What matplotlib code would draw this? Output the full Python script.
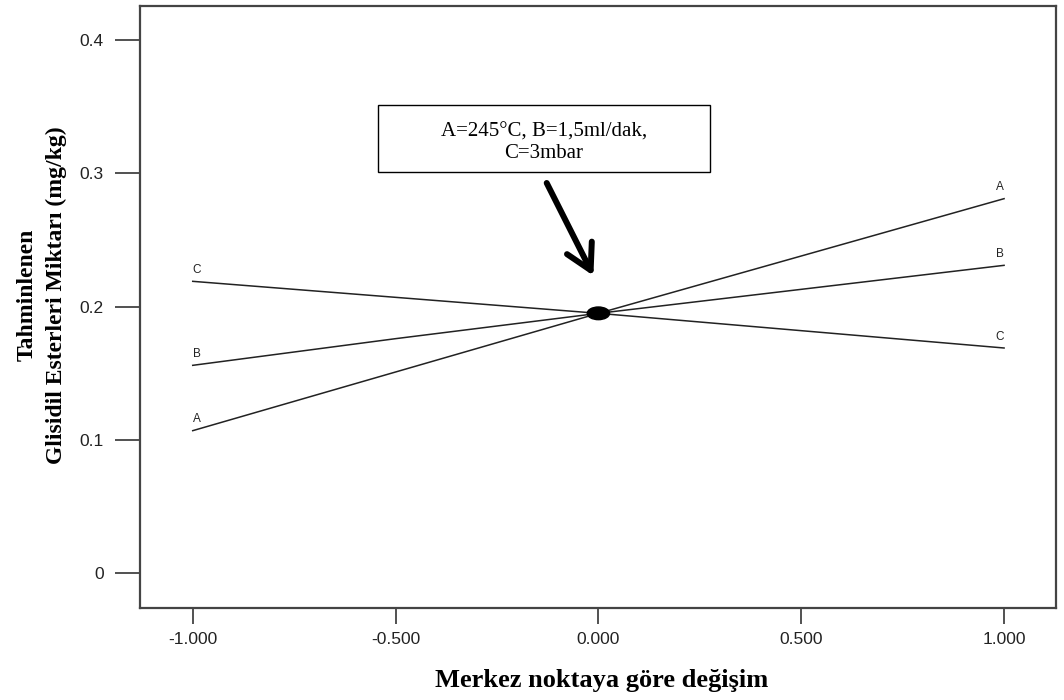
import matplotlib
matplotlib.use("Agg")
import matplotlib.pyplot as plt
from matplotlib.patches import Rectangle, Ellipse

# Data
x_dev = [-1.0, -0.5, 0.0, 0.5, 1.0]
series_A = [0.107, 0.151, 0.195, 0.238, 0.281]
series_B = [0.156, 0.176, 0.195, 0.213, 0.231]
series_C = [0.219, 0.207, 0.195, 0.182, 0.169]
series_names = ["A", "B", "C"]
center_x = 0.0
center_y = 0.195
xticks = [-1.0, -0.5, 0.0, 0.5, 1.0]
xtick_labels = ["-1.000", "-0.500", "0.000", "0.500", "1.000"]
yticks = [0, 0.1, 0.2, 0.3, 0.4]
ytick_labels = ["0", "0.1", "0.2", "0.3", "0.4"]
box_text = "A=245°C, B=1,5ml/dak,\nC=3mbar"

fig = plt.figure(figsize=(10.64, 7), dpi=100)
ax = fig.add_axes([140/1064, (700-608)/700, 916/1064, 602/700])

for name, ys in zip(series_names, [series_A, series_B, series_C]):
    ax.plot(x_dev, ys, color="#222222", lw=1.1)
    ax.text(x_dev[0], ys[0] + 0.004, name, fontsize=8.5, family="Liberation Sans",
            ha="left", va="bottom", color="#222222")
    ax.text(x_dev[-1], ys[-1] + 0.004, name, fontsize=8.5, family="Liberation Sans",
            ha="right", va="bottom", color="#222222")

ax.add_patch(Ellipse((center_x, center_y), 0.055, 0.0095, color="black", zorder=5))

ax.set_xlim(-1.13, 1.128)
ax.set_ylim(-0.026, 0.4255)
ax.set_xticks(xticks)
ax.set_xticklabels(xtick_labels)
ax.set_yticks(yticks)
ax.set_yticklabels(ytick_labels)
for lab in ax.get_xticklabels() + ax.get_yticklabels():
    lab.set_family("Liberation Sans")
    lab.set_fontsize(12.5)
    lab.set_color("#222222")
ax.tick_params(axis="y", length=18, width=1.2, color="#333333", pad=8)
ax.tick_params(axis="x", length=11.5, width=1.2, color="#333333", pad=6)
for sp in ax.spines.values():
    sp.set_color("#444444")
    sp.set_linewidth(1.6)

# Annotation box
rect = Rectangle((0.260, 0.724), 0.362, 0.112, transform=ax.transAxes,
                 fill=False, edgecolor="black", lw=1.0)
ax.add_patch(rect)
ax.text(0.441, 0.773, box_text, transform=ax.transAxes, ha="center", va="center",
        family="Liberation Serif", fontsize=15, linespacing=1.15)
ax.annotate("", xy=(0.495, 0.552), xytext=(0.444, 0.706),
            xycoords="axes fraction", textcoords="axes fraction",
            arrowprops=dict(arrowstyle="->,head_length=0.9,head_width=0.5",
                            lw=4.3, color="black", mutation_scale=20,
                            shrinkA=0, shrinkB=0))

fig.text(602/1064, 1 - 680/700, "Merkez noktaya göre değişim", ha="center", va="center",
         family="Liberation Serif", fontweight="bold", fontsize=19)
fig.text(42/1064, 1 - 295/700, "Tahminlenen\nGlisidil Esterleri Miktarı (mg/kg)",
         ha="center", va="center", rotation=90, family="Liberation Serif",
         fontweight="bold", fontsize=17, linespacing=1.5)

fig.savefig("out.png", dpi=100)
